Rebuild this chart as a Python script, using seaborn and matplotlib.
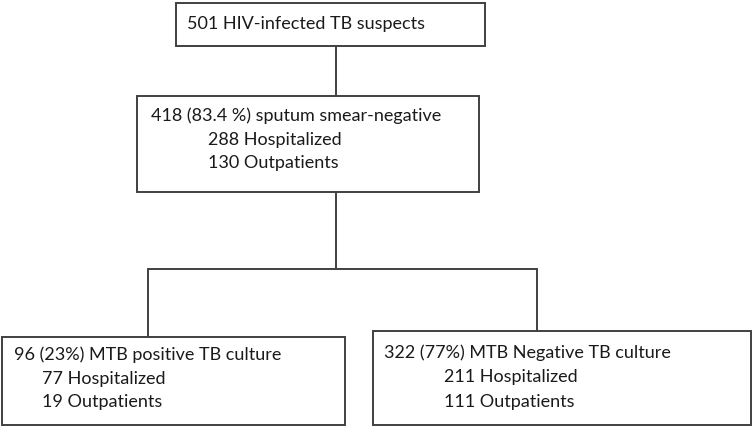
import matplotlib
matplotlib.use("Agg")
import matplotlib.pyplot as plt
from matplotlib.patches import Rectangle
import pandas as pd
import seaborn as sns

# flowchart content
totals = [501, 418, 96, 322]
percents = [None, "83.4 %", "23%", "77%"]
titles = ["HIV-infected TB suspects", "sputum smear-negative",
          "MTB positive TB culture", "MTB Negative TB culture"]
hospitalized = [None, 288, 77, 211]
outpatients = [None, 130, 19, 111]

# box layout in pixel units (x0, y0, x1, y1), y grows downwards
boxes = [(176, 3, 485, 46), (137, 96, 479, 192), (2, 337, 345, 425), (373, 331, 751, 425)]
text_x = [187, 151, 14, 384]
indent_x = [None, 208, 42, 444]
line_y = [[24], [116, 140, 163], [355, 379, 402], [353, 377, 402]]

# connector segments
segments = pd.DataFrame({
    "seg": [0, 0, 1, 1, 2, 2, 3, 3, 4, 4],
    "x": [336, 336, 336, 336, 148, 537, 148, 148, 537, 537],
    "y": [46, 96, 192, 269, 269, 269, 269, 337, 269, 331],
})

sns.set_theme(style="white")
plt.rcParams["font.family"] = ["Lato", "DejaVu Sans"]

edge = "#404040"
txt = "#1a1a1a"
fig = plt.figure(figsize=(7.54, 4.29), dpi=100)
ax = fig.add_axes([0, 0, 1, 1])
ax.set_xlim(0, 754)
ax.set_ylim(429, 0)
ax.axis("off")

sns.lineplot(data=segments, x="x", y="y", units="seg", estimator=None,
             sort=False, color=edge, linewidth=1.4, ax=ax, legend=False)

for (x0, y0, x1, y1) in boxes:
    ax.add_patch(Rectangle((x0, y0), x1 - x0, y1 - y0, facecolor="white",
                           edgecolor=edge, linewidth=1.4, zorder=3))

for i in range(len(boxes)):
    if percents[i] is None:
        head = f"{totals[i]} {titles[i]}"
    else:
        head = f"{totals[i]} ({percents[i]}) {titles[i]}"
    ax.text(text_x[i], line_y[i][0], head, fontsize=13, color=txt,
            va="center", ha="left", zorder=4)
    if hospitalized[i] is not None:
        ax.text(indent_x[i], line_y[i][1], f"{hospitalized[i]} Hospitalized",
                fontsize=13, color=txt, va="center", ha="left", zorder=4)
        ax.text(indent_x[i], line_y[i][2], f"{outpatients[i]} Outpatients",
                fontsize=13, color=txt, va="center", ha="left", zorder=4)

fig.savefig("out.png", dpi=100, facecolor="white")
